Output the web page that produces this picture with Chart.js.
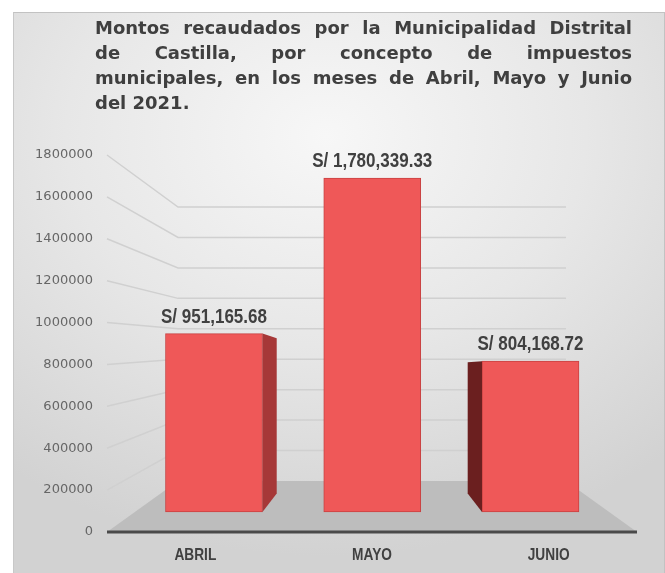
<!DOCTYPE html>
<html>
<head>
<meta charset="utf-8">
<script src="https://cdn.jsdelivr.net/npm/chart.js@4.4.1/dist/chart.umd.min.js"></script>
<style>
html,body{margin:0;padding:0;background:#fff;width:665px;height:573px;overflow:hidden;}
#frame{position:absolute;left:13px;top:12px;width:652px;height:561px;box-sizing:border-box;
  border-top:1px solid #c2c2c2;border-left:1px solid #c8c8c8;border-right:1px solid #c2c2c2;
  background:radial-gradient(ellipse 80% 75% at 48% 22%, #f7f7f7 0%, #e7e7e7 50%, #d2d2d2 100%);}
#title{position:absolute;left:95px;top:15px;width:537px;font:bold 18px 'DejaVu Sans',sans-serif;color:#3f3f3f;line-height:25px;}
#title div{text-align:justify;text-align-last:justify;}
#title div.last{text-align:left;text-align-last:left;}
canvas{position:absolute;left:0;top:0;}
</style>
</head>
<body>
<div id="frame"></div>
<canvas id="c" width="665" height="573"></canvas>
<div id="title">
  <div>Montos recaudados por la Municipalidad Distrital</div>
  <div>de Castilla, por concepto de impuestos</div>
  <div>municipales, en los meses de Abril, Mayo y Junio</div>
  <div class="last">del 2021.</div>
</div>
<script>
const categories = ['ABRIL', 'MAYO', 'JUNIO'];
const amounts = [951165.68, 1780339.33, 804168.72];
const yTicks = [0, 200000, 400000, 600000, 800000, 1000000, 1200000, 1400000, 1600000, 1800000];

const SANS = "'Liberation Sans', Arial, sans-serif";

// draw text horizontally condensed (like Arial Narrow)
function narrowText(ctx, txt, x, y, size, squeeze) {
  ctx.save();
  ctx.translate(x, y);
  ctx.scale(squeeze, 1);
  ctx.font = 'bold ' + size + 'px ' + SANS;
  ctx.textAlign = 'center';
  ctx.textBaseline = 'alphabetic';
  ctx.fillText(txt, 0, 0);
  ctx.restore();
}

const excel3d = {
  id: 'excel3d',
  beforeDatasetsDraw(chart) {
    const {ctx, chartArea: a, scales} = chart;
    const y = scales.y, y3 = scales.y3;
    const cx = (a.left + a.right) / 2, t = 0.268;
    const bl = a.left + t * (cx - a.left), br = a.right - t * (a.right - cx);
    ctx.save();
    ctx.strokeStyle = '#d0d0d0';
    ctx.lineWidth = 1.5;
    yTicks.forEach(v => {
      if (v === 0) return;
      ctx.beginPath();
      ctx.moveTo(a.left, y.getPixelForValue(v));
      ctx.lineTo(bl, y3.getPixelForValue(v));
      ctx.lineTo(br, y3.getPixelForValue(v));
      ctx.stroke();
    });
    const f0 = y.getPixelForValue(0), b0 = y3.getPixelForValue(0);
    ctx.fillStyle = '#bdbdbd';
    ctx.beginPath();
    ctx.moveTo(a.left, f0); ctx.lineTo(bl, b0); ctx.lineTo(br, b0); ctx.lineTo(a.right, f0);
    ctx.closePath(); ctx.fill();
    ctx.strokeStyle = '#4a4a4a';
    ctx.lineWidth = 3;
    ctx.beginPath(); ctx.moveTo(a.left, f0); ctx.lineTo(a.right, f0); ctx.stroke();
    ctx.restore();
  },
  afterDatasetsDraw(chart) {
    const {ctx, chartArea: a, scales} = chart;
    const meta = chart.getDatasetMeta(0);
    const vx = (a.left + a.right) / 2, vy = 370, t = 0.13;
    ctx.save();
    meta.data.forEach((bar, i) => {
      const {x, y, base, width} = bar.getProps(['x', 'y', 'base', 'width'], true);
      const left = x - width / 2, right = x + width / 2;
      let ex = null;
      if (x < vx - 10) ex = right; else if (x > vx + 10) ex = left;
      if (ex !== null) {
        const dx = t * (vx - ex);
        ctx.fillStyle = ex === right ? '#a63838' : '#6b1f1f';
        ctx.beginPath();
        ctx.moveTo(ex, y);
        ctx.lineTo(ex + dx, y + t * (vy - y));
        ctx.lineTo(ex + dx, base + t * (vy - base));
        ctx.lineTo(ex, base);
        ctx.closePath();
        ctx.fill();
      }
      ctx.fillStyle = '#404040';
      const txt = 'S/ ' + amounts[i].toLocaleString('en-US', {minimumFractionDigits: 2, maximumFractionDigits: 2});
      narrowText(ctx, txt, x, y - 11, 20.5, 0.83);
    });
    // category labels on the front edge of the floor
    const xs = scales.x;
    ctx.fillStyle = '#404040';
    categories.forEach((c, i) => {
      narrowText(ctx, xs.getLabelForValue(i), xs.getPixelForTick(i), a.bottom + 28, 16.5, 0.83);
    });
    ctx.restore();
  }
};

new Chart(document.getElementById('c'), {
  type: 'bar',
  data: {
    labels: categories,
    datasets: [{
      data: amounts.map((v, i) => ({x: i, y: v})),
      xAxisID: 'x2',
      yAxisID: 'y2',
      backgroundColor: '#ef5858',
      borderColor: '#c84242',
      borderWidth: 1,
      borderSkipped: false,
      barThickness: 97
    }]
  },
  options: {
    responsive: false,
    animation: false,
    layout: {padding: {left: 0, right: 28, top: 155, bottom: 0}},
    plugins: {legend: {display: false}, tooltip: {enabled: false}, title: {display: false}},
    scales: {
      x: {
        type: 'category', position: 'bottom',
        grid: {display: false, drawTicks: false},
        border: {display: false},
        ticks: {display: false},
        afterFit(s) { s.height = 41; }
      },
      x2: {type: 'linear', display: false, offset: false, min: -0.676, max: 2.673},
      y: {
        type: 'linear', position: 'left', min: 0, max: 1800000,
        grid: {display: false, drawTicks: false},
        border: {display: false},
        ticks: {
          font: {family: "'DejaVu Sans', sans-serif", size: 13}, color: '#666666', padding: 14,
          callback: v => String(v)
        },
        afterBuildTicks(s) { s.ticks = yTicks.map(v => ({value: v})); },
        afterFit(s) { s.width = 107; }
      },
      y2: {type: 'linear', display: false, min: -106610, max: 1902985},
      y3: {type: 'linear', display: false, min: -335100, max: 2141900}
    }
  },
  plugins: [excel3d]
});
</script>
</body>
</html>
